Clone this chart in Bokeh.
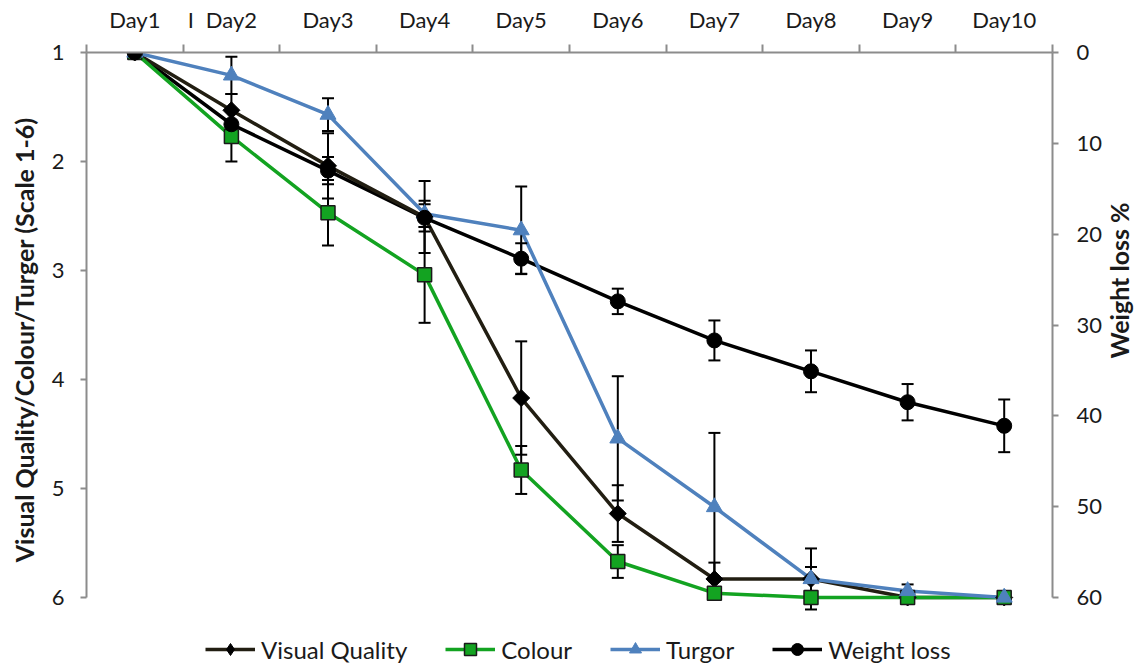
import math
from bokeh.plotting import figure
from bokeh.models import Range1d, LinearAxis, FixedTicker, Legend, LegendItem
from bokeh.embed import file_html
from bokeh.resources import INLINE

days = ["Day1", "Day2", "Day3", "Day4", "Day5", "Day6", "Day7", "Day8", "Day9", "Day10"]
visual_quality = [1.0, 1.53, 2.04, 2.51, 4.17, 5.23, 5.83, 5.83, 6.0, 6.0]
visual_quality_err = [0.0, 0.15, 0.30, 0.33, 0.52, 0.26, 0.15, 0.11, 0.0, 0.0]
colour = [1.0, 1.77, 2.47, 3.04, 4.83, 5.67, 5.96, 6.0, 6.0, 6.0]
colour_err = [0.0, 0.23, 0.30, 0.44, 0.22, 0.15, 0.0, 0.0, 0.0, 0.0]
turgor = [1.0, 1.21, 1.57, 2.48, 2.63, 4.54, 5.17, 5.83, 5.94, 6.0]
turgor_err = [0.0, 0.17, 0.15, 0.12, 0.40, 0.57, 0.68, 0.28, 0.06, 0.0]
weight_loss = [0.0, 7.9, 13.0, 18.2, 22.7, 27.4, 31.7, 35.1, 38.5, 41.1]
weight_loss_err = [0.0, 1.5, 1.5, 1.5, 1.7, 1.4, 2.2, 2.3, 2.0, 2.9]
score_ticks = [1, 2, 3, 4, 5, 6]
wl_ticks = [0, 10, 20, 30, 40, 50, 60]

FONT = "Lato"
AX = "#8c8c8c"
TXT = "#1a1a1a"
EM = "\u2003"

PLOT_H = 545          # pixel height of the 1..6 scale
FRAME_H = 612         # frame extends below the scale to host the legend
ext = (FRAME_H - PLOT_H) / PLOT_H

xs = [i + 0.5 for i in range(len(days))]

s_lo, s_hi = score_ticks[0], score_ticks[-1]
w_lo, w_hi = wl_ticks[0], wl_ticks[-1]

p = figure(frame_width=966, frame_height=FRAME_H, output_backend="svg", toolbar_location=None,
           x_range=Range1d(0, len(days)),
           y_range=Range1d(s_hi + (s_hi - s_lo) * ext, s_lo),
           x_axis_location="above", min_border_left=86, min_border_right=88,
           min_border_top=52, min_border_bottom=0)
p.extra_y_ranges = {"wl": Range1d(w_hi + (w_hi - w_lo) * ext, w_lo)}
p.xgrid.visible = False
p.ygrid.visible = False
p.outline_line_color = None
p.background_fill_color = "white"
p.border_fill_color = "white"

xa = p.xaxis[0]
xa.ticker = FixedTicker(ticks=xs + [1.08], minor_ticks=list(range(len(days) + 1)))
labels = {x: d for x, d in zip(xs, days)}
labels[1.08] = "I"
xa.major_label_overrides = labels
xa.major_tick_out = 0
xa.major_tick_in = 0
xa.minor_tick_out = 8
xa.minor_tick_in = 0

ya = p.yaxis[0]
ya.ticker = FixedTicker(ticks=score_ticks)
ya.bounds = (s_lo, s_hi)
ya.axis_label = EM * 2 + "Visual Quality/Colour/Turger (Scale 1-6)"
ya.major_tick_out = 6
ya.major_tick_in = 0
ya.minor_tick_out = 0
ya.minor_tick_in = 0

ra = LinearAxis(y_range_name="wl", ticker=FixedTicker(ticks=wl_ticks), bounds=(w_lo, w_hi),
                axis_label="Weight loss %" + EM * 2)
ra.major_tick_out = 6
ra.major_tick_in = 0
ra.minor_tick_out = 0
ra.minor_tick_in = 0
if "axis_label_orientation" in ra.properties():
    ra.axis_label_orientation = math.pi / 2
p.add_layout(ra, "right")

for ax in [xa, ya, ra]:
    ax.axis_line_color = AX
    ax.axis_line_width = 2
    ax.major_tick_line_color = AX
    ax.major_tick_line_width = 2
    ax.minor_tick_line_color = AX
    ax.minor_tick_line_width = 2
    ax.major_label_text_font = FONT
    ax.major_label_text_font_size = "22px"
    ax.major_label_text_color = TXT
    ax.axis_label_text_font = FONT
    ax.axis_label_text_font_size = "25px"
    ax.axis_label_text_font_style = "bold"
    ax.axis_label_text_color = TXT
ra.axis_label_text_baseline = "top"
xa.major_label_standoff = 12
ya.major_label_standoff = 16
ra.major_label_standoff = 18
ya.axis_label_standoff = 10
ra.axis_label_standoff = 14


def errbars(vals, errs, range_name="default"):
    xx, y0, y1 = [], [], []
    for x, v, e in zip(xs, vals, errs):
        if e > 0:
            xx.append(x)
            y0.append(v - e)
            y1.append(v + e)
    p.segment(xx, y0, xx, y1, line_color="black", line_width=2, y_range_name=range_name)
    p.scatter(xx + xx, y0 + y1, marker="dash", size=12, line_color="black", line_width=2,
              y_range_name=range_name)


l_wl = p.line(xs, weight_loss, line_color="black", line_width=3.5, y_range_name="wl")
l_vq = p.line(xs, visual_quality, line_color="#221e12", line_width=3.5)
l_co = p.line(xs, colour, line_color="#13a321", line_width=3.5)
l_tu = p.line(xs, turgor, line_color="#4f81bd", line_width=3.5)

errbars(visual_quality, visual_quality_err)
errbars(colour, colour_err)
errbars(turgor, turgor_err)
errbars(weight_loss, weight_loss_err, "wl")

m_vq = p.scatter(xs, visual_quality, marker="square", angle=math.pi / 4, size=12,
                 fill_color="black", line_color="black")
m_co = p.scatter(xs, colour, marker="square", size=14, fill_color="#13a321", line_color="#1a1a1a", line_width=1.5)
m_tu = p.scatter(xs, turgor, marker="triangle", size=16, fill_color="#4f81bd", line_color="#4f81bd")
m_wl = p.scatter(xs, weight_loss, marker="circle", size=15, fill_color="black", line_color="black", y_range_name="wl")
# legend-only swatch for the diamond (placed outside the visible ranges)
k_vq = p.scatter(x=[-100], y=[-100], marker="diamond", size=16, fill_color="black", line_color="black")

legend = Legend(items=[
    LegendItem(label="Visual Quality", renderers=[l_vq, k_vq]),
    LegendItem(label="Colour", renderers=[l_co, m_co]),
    LegendItem(label="Turgor", renderers=[l_tu, m_tu]),
    LegendItem(label="Weight loss", renderers=[l_wl, m_wl]),
], orientation="horizontal", location=(119, 0))
legend.label_text_font = FONT
legend.label_text_font_size = "24px"
legend.label_text_color = TXT
legend.glyph_width = 50
legend.glyph_height = 30
legend.label_standoff = 6
legend.spacing = 38
legend.border_line_color = None
legend.background_fill_alpha = 0
legend.margin = 0
legend.padding = 0
p.add_layout(legend)

open("out.html", "w").write(file_html(p, INLINE))
